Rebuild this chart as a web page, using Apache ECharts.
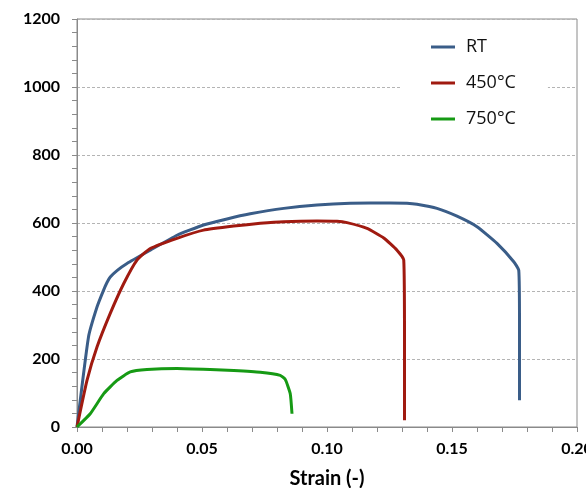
<!DOCTYPE html>
<html>
<head>
<meta charset="utf-8">
<script src="https://cdn.jsdelivr.net/npm/echarts@6/dist/echarts.min.js"></script>
<style>html,body{margin:0;padding:0;background:#fff}#c{width:586px;height:488px}</style>
</head>
<body>
<div id="c"></div>
<script>
const seriesNames = ['RT', '450°C', '750°C'];
const xTicks = [0, 0.05, 0.10, 0.15, 0.20];
const yTicks = [0, 200, 400, 600, 800, 1000, 1200];

const rtStrain = [0, 0.0046, 0.008, 0.0106, 0.012, 0.0133, 0.016, 0.02, 0.0293, 0.04, 0.0506, 0.06, 0.0693, 0.0827, 0.096, 0.1093, 0.1253, 0.132, 0.136, 0.144, 0.152, 0.16, 0.168, 0.1747, 0.1767, 0.177, 0.177];
const rtStress = [0, 265, 353, 402, 425, 441, 460, 481, 520, 564, 594, 612, 627, 643, 653, 658, 659, 658, 655, 643, 620, 589, 540, 486, 461, 300, 79];

const t450Strain = [0, 0.004, 0.008, 0.0133, 0.0187, 0.024, 0.0293, 0.04, 0.0506, 0.0627, 0.0733, 0.0827, 0.096, 0.104, 0.108, 0.116, 0.1227, 0.128, 0.1307, 0.131, 0.131];
const t450Stress = [0, 137, 235, 334, 422, 491, 525, 555, 579, 591, 599, 604, 606, 605, 601, 584, 556, 520, 491, 250, 20];

const t750Strain = [0, 0.0053, 0.0107, 0.016, 0.0213, 0.028, 0.04, 0.0533, 0.0627, 0.0733, 0.0813, 0.0833, 0.0853, 0.086];
const t750Stress = [0, 39, 98, 137, 162, 169, 172, 169, 166, 161, 152, 140, 98, 39];

const colors = ['#3A5D88', '#A01A10', '#169A14'];

function pairs(xs, ys) { return xs.map((x, i) => [x, ys[i]]); }

const chart = echarts.init(document.getElementById('c'), null, {renderer: 'canvas'});
const axisColor = '#8a8a8a';
const labelFont = {color: '#000', fontFamily: 'Lato', fontWeight: 'bold', fontSize: 16};

chart.setOption({
  animation: false,
  color: colors,
  grid: {left: 77, right: 9, top: 19, bottom: 61, show: true, borderColor: axisColor, borderWidth: 1,
         backgroundColor: 'transparent', containLabel: false, outerBoundsMode: 'none'},
  legend: {
    orient: 'vertical',
    left: 400, top: 25,
    padding: [12, 32, 12, 31],
    backgroundColor: '#fff',
    icon: 'rect',
    itemWidth: 24, itemHeight: 3,
    itemGap: 16,
    textStyle: {fontFamily: 'Open Sans', fontSize: 18, color: '#111', lineHeight: 20, padding: [0, 0, 0, 6]},
    data: seriesNames
  },
  xAxis: {
    type: 'value', min: xTicks[0], max: xTicks[xTicks.length - 1], interval: 0.05,
    name: 'Strain (-)', nameLocation: 'middle', nameGap: 42,
    nameTextStyle: {fontFamily: 'Lato', fontWeight: 'bold', fontSize: 20, color: '#000'},
    axisLine: {lineStyle: {color: axisColor, width: 1}},
    axisTick: {show: true, inside: false, length: 5, lineStyle: {color: axisColor}},
    minorTick: {show: true, splitNumber: 5, length: 5, lineStyle: {color: axisColor}},
    splitLine: {show: false},
    axisLabel: Object.assign({margin: 14, formatter: v => v.toFixed(2)}, labelFont)
  },
  yAxis: {
    type: 'value', min: yTicks[0], max: yTicks[yTicks.length - 1], interval: 200,
    axisLine: {show: true, lineStyle: {color: axisColor, width: 1}},
    axisTick: {show: true, inside: false, length: 5, lineStyle: {color: axisColor}},
    minorTick: {show: true, splitNumber: 5, length: 5, lineStyle: {color: axisColor}},
    splitLine: {show: true, lineStyle: {color: '#b4b4b4', type: [3, 2], width: 1}},
    axisLabel: Object.assign({margin: 17, formatter: v => String(v)}, labelFont)
  },
  series: [
    {name: seriesNames[0], type: 'line', data: pairs(rtStrain, rtStress), showSymbol: false, smooth: 0.15, lineStyle: {width: 3}, z: 3},
    {name: seriesNames[1], type: 'line', data: pairs(t450Strain, t450Stress), showSymbol: false, smooth: 0.15, lineStyle: {width: 3}, z: 3},
    {name: seriesNames[2], type: 'line', data: pairs(t750Strain, t750Stress), showSymbol: false, smooth: 0.15, lineStyle: {width: 3}, z: 3}
  ]
});
</script>
</body>
</html>
